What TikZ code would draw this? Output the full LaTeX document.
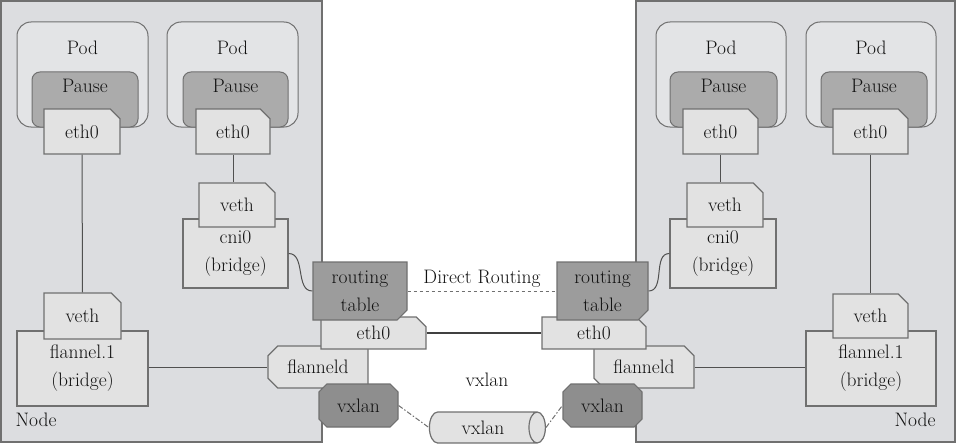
\documentclass[tikz,border=0pt]{standalone}
\usepackage{xcolor}
\usepackage{tikz}
\usetikzlibrary{shapes.misc,shapes.geometric}

\definecolor{hostgray}{HTML}{DCDDE0}
\definecolor{podgray}{HTML}{E3E4E6}
\definecolor{pausegray}{HTML}{ABABAB}
\definecolor{ifgray}{HTML}{E2E2E2}
\definecolor{routegray}{HTML}{9C9C9C}
\definecolor{vxgray}{HTML}{8E8E8E}
\definecolor{edgegray}{HTML}{707070}
\definecolor{wiregray}{HTML}{505050}
\definecolor{txtgray}{HTML}{111111}

\tikzset{
  sz/.style 2 args={minimum width=#1, minimum height=#2, inner sep=0pt},
  hostbox/.style={draw=edgegray, fill=hostgray, line width=1.5pt},
  podbox/.style={draw=edgegray, fill=podgray, line width=1pt, rounded corners=14pt},
  pausebox/.style={draw=edgegray, fill=pausegray, line width=1pt, rounded corners=8pt},
  ifbox/.style={draw=edgegray, fill=ifgray, line width=1.2pt},
  ifcut/.style={ifbox, chamfered rectangle, chamfered rectangle xsep=7pt,
    chamfered rectangle angle=45, chamfered rectangle corners={#1}},
  routebox/.style={draw=edgegray, fill=routegray, line width=1.2pt, chamfered rectangle,
    chamfered rectangle xsep=7pt, chamfered rectangle angle=45,
    chamfered rectangle corners=south east},
  vxbox/.style={draw=edgegray, fill=vxgray, line width=1.2pt, chamfered rectangle,
    chamfered rectangle xsep=5pt, chamfered rectangle angle=45},
  pipe/.style={cylinder, shape aspect=1.2, draw=edgegray, fill=ifgray, line width=1.2pt},
  wire/.style={draw=wiregray, line width=1pt},
  vxwire/.style={draw=edgegray, line width=1pt, dash pattern=on 5pt off 2pt on 1.5pt off 2pt},
}

\begin{document}
\begin{tikzpicture}[x=1pt,y=-1pt, font=\fontsize{19.5}{28}\selectfont, text=txtgray]
\useasboundingbox (0,0) rectangle (958,444);
% left host
\node[hostbox, sz={321}{441}] at (161.5,221.5) (nodeL) {};
\node at (36,420) (nodeLtxt) {Node};
\node[podbox, sz={131}{105}, label={[anchor=base,yshift=-33pt]north:Pod}] at (82.5,74.5) (podA) {};
\node[pausebox, sz={106}{55}, label={[anchor=base,yshift=-21pt]north:Pause}] at (85,99.5) (pauseA) {};
\node[ifcut=north east, sz={76}{45}] at (82,131.5) (ethA) {eth0};
\node[podbox, sz={131}{105}, label={[anchor=base,yshift=-33pt]north:Pod}] at (232.5,74.5) (podB) {};
\node[pausebox, sz={105}{55}, label={[anchor=base,yshift=-21pt]north:Pause}] at (235.5,99.5) (pauseB) {};
\node[ifcut=north east, sz={74}{45}] at (233,131.5) (ethB) {eth0};
\node[ifbox, sz={105}{69}, align=center] at (235.5,253.5) (cniL) {cni0\\(bridge)};
\node[ifcut=north east, sz={76}{44}] at (237,205) (vethB) {veth};
\node[ifbox, sz={131}{75}, align=center] at (82.5,368.5) (flanL) {flannel.1\\(bridge)};
\node[ifcut=north east, sz={77}{46}] at (82.5,316) (vethA) {veth};
\node[ifcut={north west,south west}, sz={100}{42}] at (318,367) (fldL) {flanneld};
\node[ifcut=north east, sz={105}{32}] at (373.5,333) (ethL) {eth0};
\node[routebox, sz={94}{58}, align=center] at (360,291) (routeL) {routing\\table};
\node[vxbox, sz={79}{43}] at (358.5,405.5) (vxL) {vxlan};
% right host
\node[hostbox, sz={319}{441}] at (795.5,221.5) (nodeR) {};
\node at (915,420) (nodeRtxt) {Node};
\node[podbox, sz={130}{105}, label={[anchor=base,yshift=-33pt]north:Pod}] at (721,74.5) (podC) {};
\node[pausebox, sz={107}{55}, label={[anchor=base,yshift=-21pt]north:Pause}] at (723.5,99.5) (pauseC) {};
\node[ifcut=north east, sz={75}{45}] at (720.5,131.5) (ethC) {eth0};
\node[podbox, sz={130}{105}, label={[anchor=base,yshift=-33pt]north:Pod}] at (871,74.5) (podD) {};
\node[pausebox, sz={106}{55}, label={[anchor=base,yshift=-21pt]north:Pause}] at (874,99.5) (pauseD) {};
\node[ifcut=north east, sz={75}{45}] at (870.5,131.5) (ethD) {eth0};
\node[ifbox, sz={106}{69}, align=center] at (723,253.5) (cniR) {cni0\\(bridge)};
\node[ifcut=north east, sz={76}{44}] at (725,205) (vethC) {veth};
\node[ifbox, sz={130}{75}, align=center] at (871,368.5) (flanR) {flannel.1\\(bridge)};
\node[ifcut=north east, sz={75}{44}] at (870.5,316) (vethD) {veth};
\node[ifcut={north east,south west}, sz={100}{42}] at (644,367) (fldR) {flanneld};
\node[ifcut=north east, sz={104}{32}] at (594,333) (ethR) {eth0};
\node[routebox, sz={91}{58}, align=center] at (602.5,291) (routeR) {routing\\table};
\node[vxbox, sz={79}{43}] at (602.5,405.5) (vxR) {vxlan};
% between the hosts
\node[pipe, sz={31}{116}] at (483,427.5) (tunnel) {vxlan};
\node at (487,380) (vxtxt) {vxlan};
% links
\draw[wire] (ethA.south) -- (vethA.north);
\draw[wire] (ethB.south) -- (ethB.south |- vethB.north);
\draw[wire] (ethC.south) -- (ethC.south |- vethC.north);
\draw[wire] (ethD.south) -- (vethD.north);
\draw[wire] (cniL.east) to [out=0,in=180] (routeL.west);
\draw[wire] (routeR.east) to [out=0,in=180] (cniR.west);
\draw[wire] (fldL.west -| flanL.east) -- (fldL.west);
\draw[wire] (fldR.east) -- (fldR.east -| flanR.west);
\draw[wire, line width=2pt, draw=black!75] (ethL.east) -- (ethL.east -| ethR.west);
\draw[dashed, draw=edgegray, line width=1pt] (routeL.east) -- (routeR.west) node[midway,above] {Direct Routing};
\draw[vxwire] (vxL.east) -- (tunnel.west);
\draw[vxwire] (tunnel.east) -- (vxR.west);
\end{tikzpicture}
\end{document}
